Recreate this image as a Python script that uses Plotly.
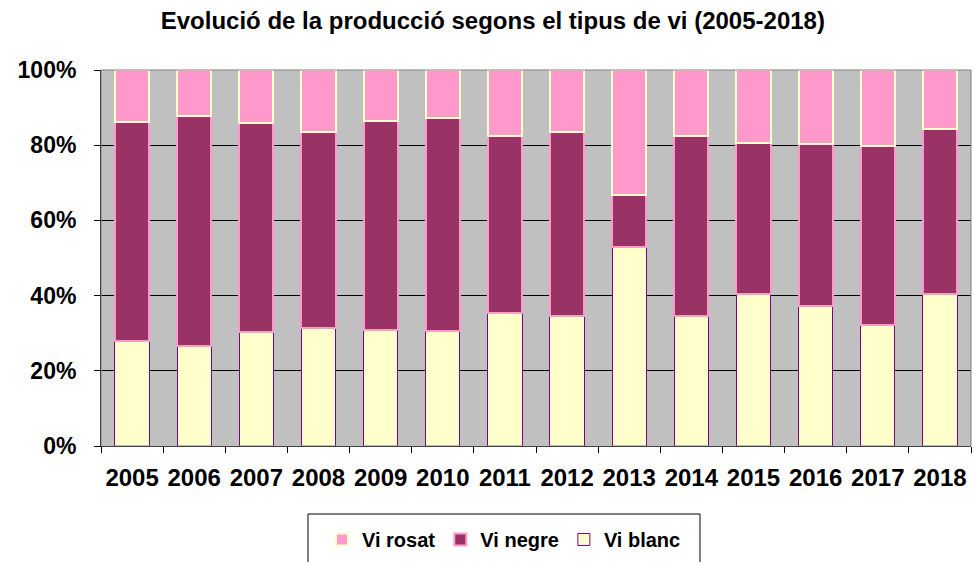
import plotly.graph_objects as go

years = ["2005", "2006", "2007", "2008", "2009", "2010", "2011",
         "2012", "2013", "2014", "2015", "2016", "2017", "2018"]
vi_blanc = [27.9, 26.7, 30.4, 31.4, 30.8, 30.5, 35.4, 34.5, 52.8, 34.7, 40.5, 37.3, 32.1, 40.5]
vi_negre = [58.4, 61.1, 55.6, 52.2, 55.7, 56.8, 47.0, 48.9, 13.9, 47.8, 40.0, 43.1, 47.7, 43.8]
vi_rosat = [13.7, 12.2, 14.0, 16.4, 13.5, 12.7, 17.6, 16.6, 33.3, 17.5, 19.5, 19.6, 20.2, 15.7]

FONT = "Liberation Sans, Arial, sans-serif"

fig = go.Figure()
fig.add_trace(go.Bar(x=years, y=[v / 100 for v in vi_blanc], name="<b>Vi blanc</b>",
                     marker=dict(color="#FFFFCC", line=dict(color="#800080", width=1))))
fig.add_trace(go.Bar(x=years, y=[v / 100 for v in vi_negre], name="<b>Vi negre</b>",
                     marker=dict(color="#993366", line=dict(color="#FF99CC", width=2))))
fig.add_trace(go.Bar(x=years, y=[v / 100 for v in vi_rosat], name="<b>Vi rosat</b>",
                     marker=dict(color="#FF99CC", line=dict(color="#FFFFCC", width=2))))

fig.update_layout(
    barmode="stack",
    bargap=0.45,
    width=974, height=562,
    margin=dict(l=101, r=3, t=70, b=116, autoexpand=False),
    paper_bgcolor="white",
    plot_bgcolor="#C0C0C0",
    font=dict(family=FONT, color="black"),
    title=dict(text="<b>Evolució de la producció segons el tipus de vi (2005-2018)</b>",
               x=0.506, xanchor="center", y=0.9626, yanchor="middle",
               font=dict(size=24, family=FONT)),
    legend=dict(orientation="h", traceorder="reversed",
                x=0.254, xanchor="left", y=-0.1968, yanchor="top",
                bgcolor="rgba(0,0,0,0)", borderwidth=0,
                font=dict(size=20, family=FONT),
                itemwidth=30),
    showlegend=True,
)
fig.update_xaxes(type="category", tickson="boundaries", ticks="outside", ticklen=6,
                 tickcolor="black", showline=True, linecolor="black", linewidth=1,
                 showgrid=False, ticklabelstandoff=10, tickangle=0, automargin=False,
                 tickfont=dict(size=24, family=FONT),
                 tickprefix="<b>", ticksuffix="</b>")
fig.update_yaxes(range=[0, 1], dtick=0.2, tickformat=".0%", ticks="outside", ticklen=6,
                 tickcolor="black", showline=True, linecolor="black", linewidth=1,
                 showgrid=True, gridcolor="black", gridwidth=1, ticklabelstandoff=13,
                 automargin=False,
                 tickfont=dict(size=23, family=FONT),
                 tickprefix="<b>", ticksuffix="</b>")
# plot-area frame
fig.add_shape(type="rect", xref="paper", yref="paper", x0=0, y0=0, x1=1, y1=1,
              line=dict(color="#808080", width=1), layer="above")
# legend frame
fig.add_shape(type="rect", xref="paper", yref="paper", x0=0.2379, y0=-0.343, x1=0.6885, y1=-0.1809,
              line=dict(color="black", width=1), fillcolor="white", layer="below")

fig.write_html("out.html", config={"displayModeBar": False},
               post_script="document.body.style.margin='0';document.body.style.overflow='hidden';")
